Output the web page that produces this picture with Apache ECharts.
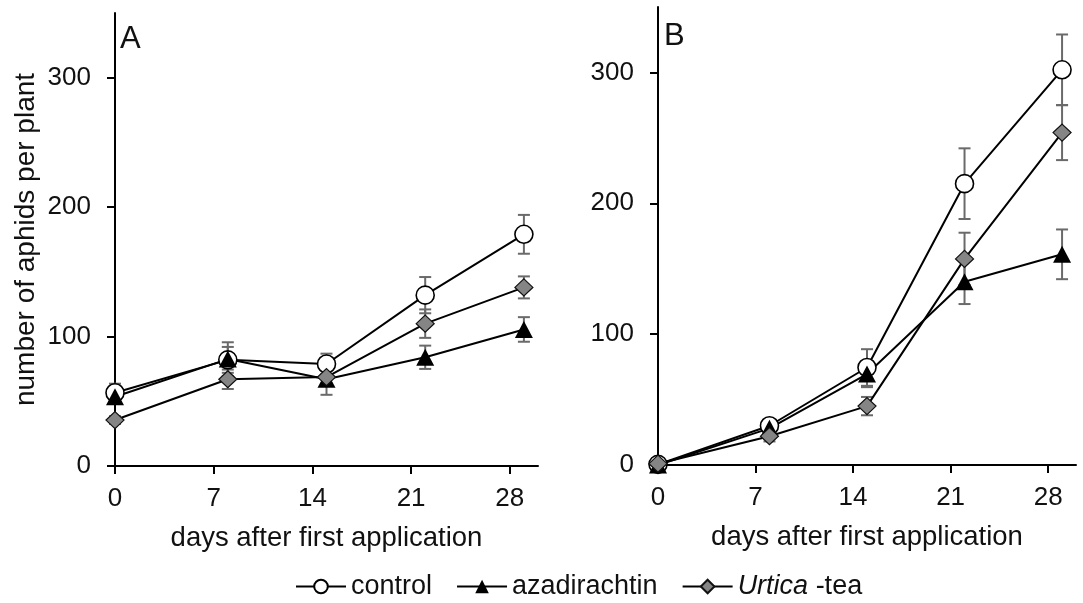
<!DOCTYPE html>
<html>
<head>
<meta charset="utf-8">
<script src="https://cdn.jsdelivr.net/npm/echarts@6/dist/echarts.min.js"></script>
<style>
html,body{margin:0;padding:0;background:#fff;}
#c{width:1083px;height:603px;}
</style>
</head>
<body>
<div id="c"></div>
<script>
// ---- data ----
const days = [0, 8, 15, 22, 29];
const xTicks = [0, 7, 14, 21, 28];
const yTicks = [0, 100, 200, 300];

const controlA = [56.6, 82, 78.8, 132, 179];
const controlAErr = [7, 10, 8, 14, 15];
const azadA = [53.5, 82.6, 67, 84, 105.5];
const azadAErr = [5, 13, 12, 9, 9.5];
const urticaA = [35.5, 67, 68.7, 110, 138];
const urticaAErr = [3, 7.5, 5, 11, 8.5];

const controlB = [0.5, 30, 74.5, 215, 302];
const controlBErr = [0.5, 3, 14, 27, 27];
const azadB = [0, 28, 69.5, 140, 161];
const azadBErr = [0, 2, 10, 17, 19];
const urticaB = [1, 22, 45, 157.5, 254];
const urticaBErr = [0.5, 4, 7, 20, 21];

const seriesNames = ['control', 'azadirachtin', 'Urtica-tea'];

// ---- helpers ----
const FONT = '"Liberation Sans", Arial, Helvetica, sans-serif';
const TXT = '#111';
const pts = (v) => days.map((d, i) => [d, v[i]]);
const errPts = (v, e) => days.map((d, i) => [d, v[i], e[i]]);

function errRender(params, api) {
  const x = api.value(0), y = api.value(1), e = api.value(2);
  if (!e) return null;
  const t = api.coord([x, y + e]);
  const b = api.coord([x, Math.max(0, y - e)]);
  const h = 6;
  const st = { stroke: '#6a6a6a', lineWidth: 2 };
  return {
    type: 'group',
    children: [
      { type: 'line', shape: { x1: t[0], y1: t[1], x2: b[0], y2: b[1] }, style: st },
      { type: 'line', shape: { x1: t[0] - h, y1: t[1], x2: t[0] + h, y2: t[1] }, style: st },
      { type: 'line', shape: { x1: b[0] - h, y1: b[1], x2: b[0] + h, y2: b[1] }, style: st }
    ]
  };
}

const styles = {
  'control': {
    symbol: 'circle', symbolSize: 18,
    itemStyle: { color: '#ffffff', borderColor: '#000', borderWidth: 1.6 }
  },
  'azadirachtin': {
    symbol: 'triangle', symbolSize: [18, 17],
    itemStyle: { color: '#000', borderColor: '#000', borderWidth: 0 }
  },
  'Urtica-tea': {
    symbol: 'diamond', symbolSize: [18, 17],
    itemStyle: { color: '#858585', borderColor: '#111', borderWidth: 1.2 }
  }
};

function lineSeries(name, idx, vals) {
  const s = styles[name];
  return {
    name: name, type: 'line', xAxisIndex: idx, yAxisIndex: idx,
    data: pts(vals), symbol: s.symbol, symbolSize: s.symbolSize,
    itemStyle: s.itemStyle, showAllSymbol: true,
    lineStyle: { color: '#000', width: 2 }, z: 3
  };
}
function errSeries(idx, vals, errs) {
  return {
    type: 'custom', xAxisIndex: idx, yAxisIndex: idx,
    renderItem: errRender, data: errPts(vals, errs), z: 2, silent: true
  };
}

function xAxis(idx) {
  return {
    type: 'value', gridIndex: idx, min: 0, max: 30, interval: 7,
    name: 'days after first application', nameLocation: 'middle', nameGap: 58,
    nameTextStyle: { fontSize: 27.5, color: TXT, fontFamily: FONT },
    axisLine: { show: true, lineStyle: { color: '#000', width: 2 } },
    axisTick: { show: true, length: 8, inside: false, customValues: xTicks, lineStyle: { color: '#000', width: 2 } },
    axisLabel: { customValues: xTicks, fontSize: 26, color: TXT, fontFamily: FONT, margin: 20 },
    splitLine: { show: false }
  };
}
function yAxis(idx, withName) {
  return {
    type: 'value', gridIndex: idx, min: 0, max: 350, interval: 50,
    name: withName ? 'number of aphids per plant' : '',
    nameLocation: 'middle', nameGap: 75,
    nameTextStyle: { fontSize: 28, color: TXT, fontFamily: FONT },
    axisLine: { show: true, onZero: false, lineStyle: { color: '#000', width: 2 } },
    axisTick: { show: true, length: 8, customValues: yTicks, lineStyle: { color: '#000', width: 2 } },
    axisLabel: { customValues: yTicks, fontSize: 26, color: TXT, fontFamily: FONT, margin: 24 },
    splitLine: { show: false }
  };
}

const chart = echarts.init(document.getElementById('c'), null, { renderer: 'canvas' });
chart.setOption({
  animation: false,
  backgroundColor: '#fff',
  grid: [
    { left: 115, top: 13, width: 423, height: 453 },
    { left: 658, top: 7, width: 418, height: 458 }
  ],
  xAxis: [xAxis(0), xAxis(1)],
  yAxis: [yAxis(0, true), yAxis(1, false)],
  legend: {
    data: seriesNames,
    left: 290, top: 568,
    itemWidth: 50, itemHeight: 17, itemGap: 24,
    textStyle: {
      fontSize: 27, color: TXT, fontFamily: FONT,
      rich: { i: { fontStyle: 'italic', fontSize: 27, color: TXT, fontFamily: FONT } }
    },
    formatter: (n) => n === 'Urtica-tea' ? '{i|Urtica} -tea' : n
  },
  graphic: [
    { type: 'text', left: 120, top: 24, style: { text: 'A', fontSize: 31, fill: TXT, fontFamily: FONT } },
    { type: 'text', left: 664, top: 21, style: { text: 'B', fontSize: 31, fill: TXT, fontFamily: FONT } }
  ],
  series: [
    errSeries(0, controlA, controlAErr),
    errSeries(0, azadA, azadAErr),
    errSeries(0, urticaA, urticaAErr),
    errSeries(1, controlB, controlBErr),
    errSeries(1, azadB, azadBErr),
    errSeries(1, urticaB, urticaBErr),
    lineSeries('control', 0, controlA),
    lineSeries('azadirachtin', 0, azadA),
    lineSeries('Urtica-tea', 0, urticaA),
    lineSeries('control', 1, controlB),
    lineSeries('azadirachtin', 1, azadB),
    lineSeries('Urtica-tea', 1, urticaB)
  ]
});
</script>
</body>
</html>
